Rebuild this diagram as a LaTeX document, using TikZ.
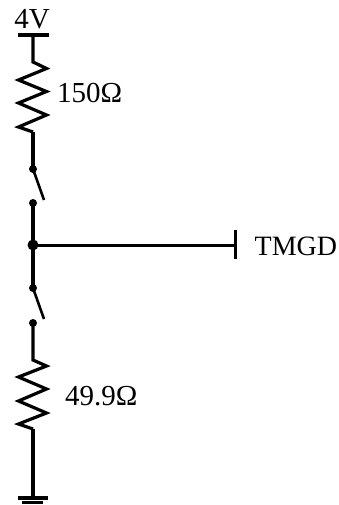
\documentclass[tikz,border=0pt]{standalone}
\usepackage{fontspec}
\setmainfont{Liberation Serif}
\tikzset{
  wire/.style={line width=3.2pt,line cap=butt,line join=miter},
  thinwire/.style={line width=3pt},
  lever/.style={line width=2.6pt},
  contact/.style={circle,fill=black,draw=none,minimum size=8pt,inner sep=0pt},
  hub/.style={circle,fill=black,draw=none,minimum size=11pt,inner sep=0pt},
  lbl/.style={inner sep=0pt,font=\fontsize{29}{29}\selectfont,text=black},
  lblgate/.style={inner sep=0pt,font=\fontsize{28}{28}\selectfont,text=black},
}
\begin{document}
\begin{tikzpicture}[x=1pt,y=-1pt]
\useasboundingbox (0,0) rectangle (339,505);
% supply
\coordinate (vl) at (18,35);
\coordinate (vr) at (49,35);
\coordinate (vm) at (33,35);
\draw[wire] (vl) -- (vr);
\node[lbl,anchor=base] (v4) at (32,29) {4V};
% upper resistor
\coordinate (r1a) at (33,62);
\coordinate (r1b) at (33,132);
\draw[wire] (vm) -- (r1a) -- (46.5,68.5) -- (18.5,80) -- (46.5,91.5) -- (18.5,103) -- (46.5,115) -- (18.5,127) -- (r1b);
\node[lbl,anchor=base west] (r1l) at (57,103) {150Ω};
% upper switch
\node[contact] (s1a) at (33,169) {};
\node[contact] (s1b) at (33,203) {};
\coordinate (s1e) at (44,200);
\draw[wire] (r1b) -- (s1a.center);
\draw[lever] (s1a.center) -- (s1e);
% junction
\node[hub] (j) at (33,245) {};
\draw[wire] (s1b.center) -- (j.center);
% gate
\coordinate (gt) at (235,230);
\coordinate (gb) at (235,259);
\coordinate (gm) at (235,245);
\draw[thinwire] (j.center) -- (gm);
\draw[thinwire] (gt) -- (gb);
\node[lblgate,anchor=base west] (tm) at (254.5,255) {TMGD};
% lower switch
\node[contact] (s2a) at (33,288) {};
\node[contact] (s2b) at (33,323) {};
\coordinate (s2e) at (44,319);
\draw[wire] (j.center) -- (s2a.center);
\draw[lever] (s2a.center) -- (s2e);
% lower resistor
\coordinate (r2a) at (33,360);
\coordinate (r2b) at (33,429);
\draw[wire] (s2b.center) -- (r2a) -- (46.5,366) -- (18.5,377) -- (46.5,389) -- (18.5,401) -- (46.5,413) -- (18.5,424) -- (r2b);
\node[lbl,anchor=base west] (r2l) at (65,405) {49.9Ω};
% ground
\coordinate (g1) at (33,498);
\coordinate (g1l) at (18,498);
\coordinate (g1r) at (48,498);
\coordinate (g2l) at (22,502.5);
\coordinate (g2r) at (43,502.5);
\draw[wire] (r2b) -- (g1);
\draw[wire] (g1l) -- (g1r);
\draw[wire] (g2l) -- (g2r);
\end{tikzpicture}
\end{document}
